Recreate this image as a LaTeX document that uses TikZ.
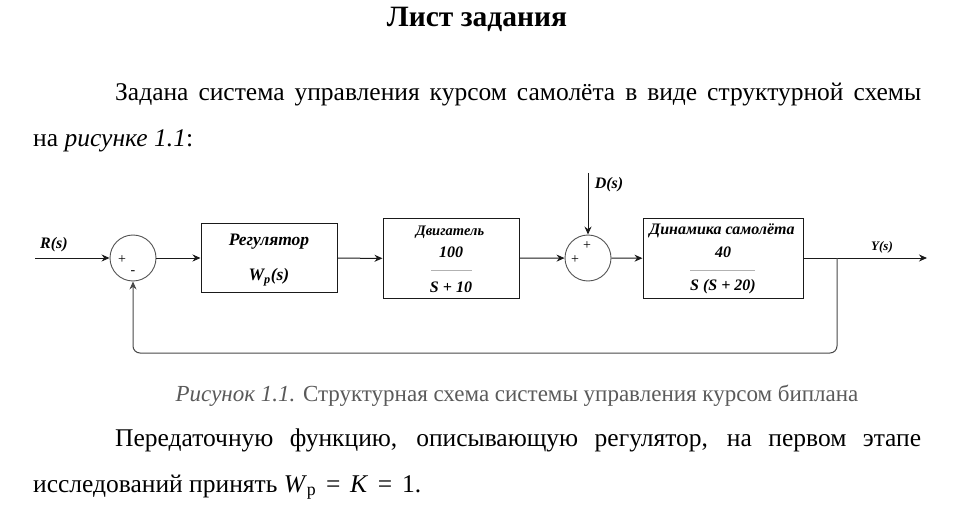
\documentclass[tikz,border=0pt]{standalone}
\usepackage{fontspec}
\setmainfont{Liberation Serif}
\definecolor{wire}{HTML}{1A1A1A}
\definecolor{capgray}{HTML}{5A5A5A}
\usetikzlibrary{arrows.meta}
\begin{document}
\begin{tikzpicture}[x=1pt,y=-1pt,
 blk/.style={draw=wire,line width=1pt,inner sep=0pt},
 sumnode/.style={circle,draw=wire!75,line width=.9pt,minimum size=46pt,inner sep=0pt},
 sig/.style={-{Stealth[length=8pt,width=7pt]},line width=1pt,draw=wire},
 lbl/.style={font=\fontsize{16}{18}\selectfont\bfseries\itshape,inner sep=0pt},
 sgn/.style={font=\fontsize{14}{14}\selectfont,inner sep=0pt},
 body/.style={font=\fontsize{25.5}{28}\selectfont,inner sep=0pt,anchor=base west}]
\useasboundingbox (0,0) rectangle (970,508);
\node[font=\fontsize{29.5}{32}\selectfont\bfseries,inner sep=0pt,anchor=base] (title) at (477,27) {Лист задания};
\node[body] (par1) at (115,101) {\makebox[806pt][s]{Задана система управления курсом самолёта в виде структурной схемы}};
\node[body] (par2) at (33,147) {на \textit{рисунке 1.1}:};
\node[sumnode] (s1) at (133,258) {};
\node[sumnode] (s2) at (588,258) {};
\node[blk,minimum width=136pt,minimum height=68pt] (reg) at (269,258) {};
\node[blk,minimum width=136pt,minimum height=79pt] (dvig) at (451,258.5) {};
\node[blk,minimum width=160pt,minimum height=79pt] (dyn) at (723,258.5) {};
\node[lbl] (tr) at (54,245) {R(s)};
\node[lbl] (td) at (609,185) {D(s)};
\node[lbl,font=\fontsize{13}{15}\selectfont\bfseries\itshape] (ty) at (882,247) {Y(s)};
\node[sgn] at (122,260) {+};\node[sgn] at (133,273) {-};
\node[sgn] at (587,246) {+};\node[sgn] at (575,260) {+};
\node[lbl,font=\fontsize{17.5}{19}\selectfont\bfseries\itshape] at (269,242) {Регулятор};
\node[lbl,font=\fontsize{17.5}{19}\selectfont\bfseries\itshape] at (269,277) {W\textsubscript{p}(s)};
\node[lbl,font=\fontsize{14.5}{16}\selectfont\bfseries\itshape] at (450,232) {Двигатель};
\node[lbl] at (451,252) {100};\node[lbl] at (451,287) {S + 10};
\node[lbl] at (722,231) {Динамика самолёта};
\node[lbl] at (723,252) {40};\node[lbl] at (723,287) {S (S + 20)};
\draw[gray!60,line width=.8pt] (431,270)--(472,270) (690,270)--(755,270);
\coordinate (rin) at (35,258);\coordinate (dtop) at (588,173);
\coordinate (yout) at (927,258);\coordinate (br) at (837,258);
\draw[sig] (rin)--(s1);\draw[sig] (s1)--(reg);\draw[sig] (reg)--(dvig);
\draw[sig] (dvig)--(s2);\draw[sig] (dtop)--(s2);\draw[sig] (s2)--(dyn);
\draw[sig] (dyn.east|-yout)--(yout);
\draw[sig,draw=wire!80,rounded corners=7pt] (br)--(837,353)--(133,353)--(s1);
\node[font=\fontsize{23}{26}\selectfont,text=capgray,inner sep=0pt,anchor=base] (cap) at (517,401) {\textit{Рисунок 1.1.} Структурная схема системы управления курсом биплана};
\node[body] (par3) at (115,446) {\makebox[806pt][s]{Передаточную функцию, описывающую регулятор, на первом этапе}};
\node[body] (par4) at (33,492) {исследований принять \textit{W}\textsubscript{p}\hspace{.38em}=\hspace{.38em}\textit{K}\hspace{.38em}=\hspace{.38em}1.};
\end{tikzpicture}
\end{document}
